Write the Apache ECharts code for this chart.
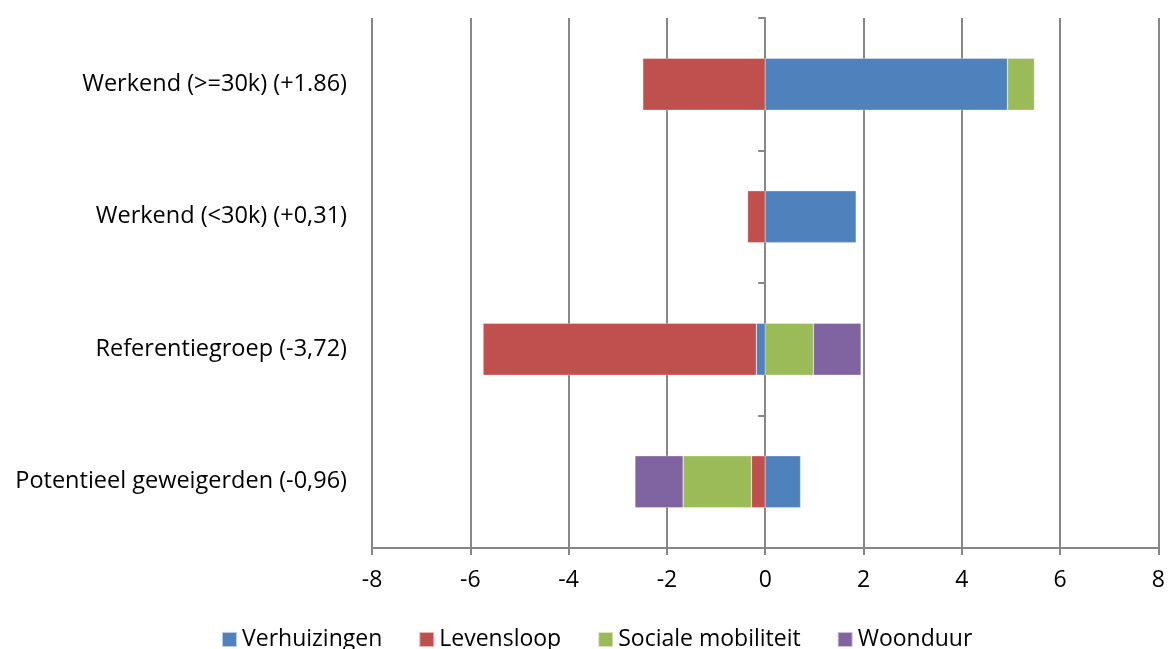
<!DOCTYPE html>
<html>
<head>
<meta charset="utf-8">
<script src="https://cdn.jsdelivr.net/npm/echarts@6/dist/echarts.min.js"></script>
<style>
  html, body { margin: 0; padding: 0; background: #fff; }
  #chart { width: 1168px; height: 649px; }
</style>
</head>
<body>
<div id="chart"></div>
<script>
// categories, top to bottom
const categories = [
  "Werkend (>=30k) (+1.86)",
  "Werkend (<30k) (+0,31)",
  "Referentiegroep (-3,72)",
  "Potentieel geweigerden (-0,96)",
];

const seriesNames = ["Verhuizingen", "Levensloop", "Sociale mobiliteit", "Woonduur"];
const verhuizingen = [4.93, 1.85, -0.18, 0.72];
const levensloop = [-2.49, -0.36, -5.56, -0.28];
const socialeMobiliteit = [0.55, 0, 0.98, -1.39];
const woonduur = [0, 0, 0.97, -0.98];

const xTicks = { min: -8, max: 8, interval: 2 };

const colors = ["#4F81BD", "#C0504D", "#9BBB59", "#8064A2"];
const gridGray = "#878787";
const FONT = "Open Sans";

const seriesData = [verhuizingen, levensloop, socialeMobiliteit, woonduur];

const chart = echarts.init(document.getElementById("chart"));

const option = {
  animation: false,
  textStyle: { fontFamily: FONT },
  grid: { left: 372, right: 6, top: 18, bottom: 101 },
  legend: {
    top: 623,
    left: 216,
    padding: 5,
    itemWidth: 15,
    itemHeight: 15,
    itemGap: 36,
    icon: "rect",
    data: seriesNames,
    textStyle: { fontFamily: FONT, fontSize: 23, color: "#000" },
  },
  xAxis: {
    type: "value",
    min: xTicks.min,
    max: xTicks.max,
    interval: xTicks.interval,
    axisLine: { show: true, onZero: false, lineStyle: { color: gridGray, width: 2 } },
    axisTick: { show: true, length: 7, lineStyle: { color: gridGray, width: 2 } },
    axisLabel: { color: "#000", fontSize: 23, margin: 21, fontFamily: FONT },
    splitLine: { show: true, lineStyle: { color: gridGray, width: 2 } },
  },
  yAxis: [
    {
      type: "category",
      data: categories,
      inverse: true,
      position: "left",
      axisLine: { show: false, onZero: false },
      axisTick: { show: false },
      axisLabel: { color: "#000", fontSize: 23.5, margin: 25, fontFamily: FONT },
    },
    {
      type: "category",
      data: categories,
      inverse: true,
      position: "left",
      axisLine: { show: true, onZero: true, lineStyle: { color: gridGray, width: 2 } },
      axisTick: { show: true, length: 7, lineStyle: { color: gridGray, width: 2 } },
      axisLabel: { show: false },
    },
  ],
  series: seriesNames.map((name, i) => ({
    name: name,
    type: "bar",
    stack: "total",
    yAxisIndex: 0,
    barWidth: 52,
    data: seriesData[i],
    itemStyle: {
      color: colors[i],
      borderColor: "rgba(255,255,255,0.6)",
      borderWidth: 0.5,
    },
  })),
};

chart.setOption(option);
</script>
</body>
</html>
